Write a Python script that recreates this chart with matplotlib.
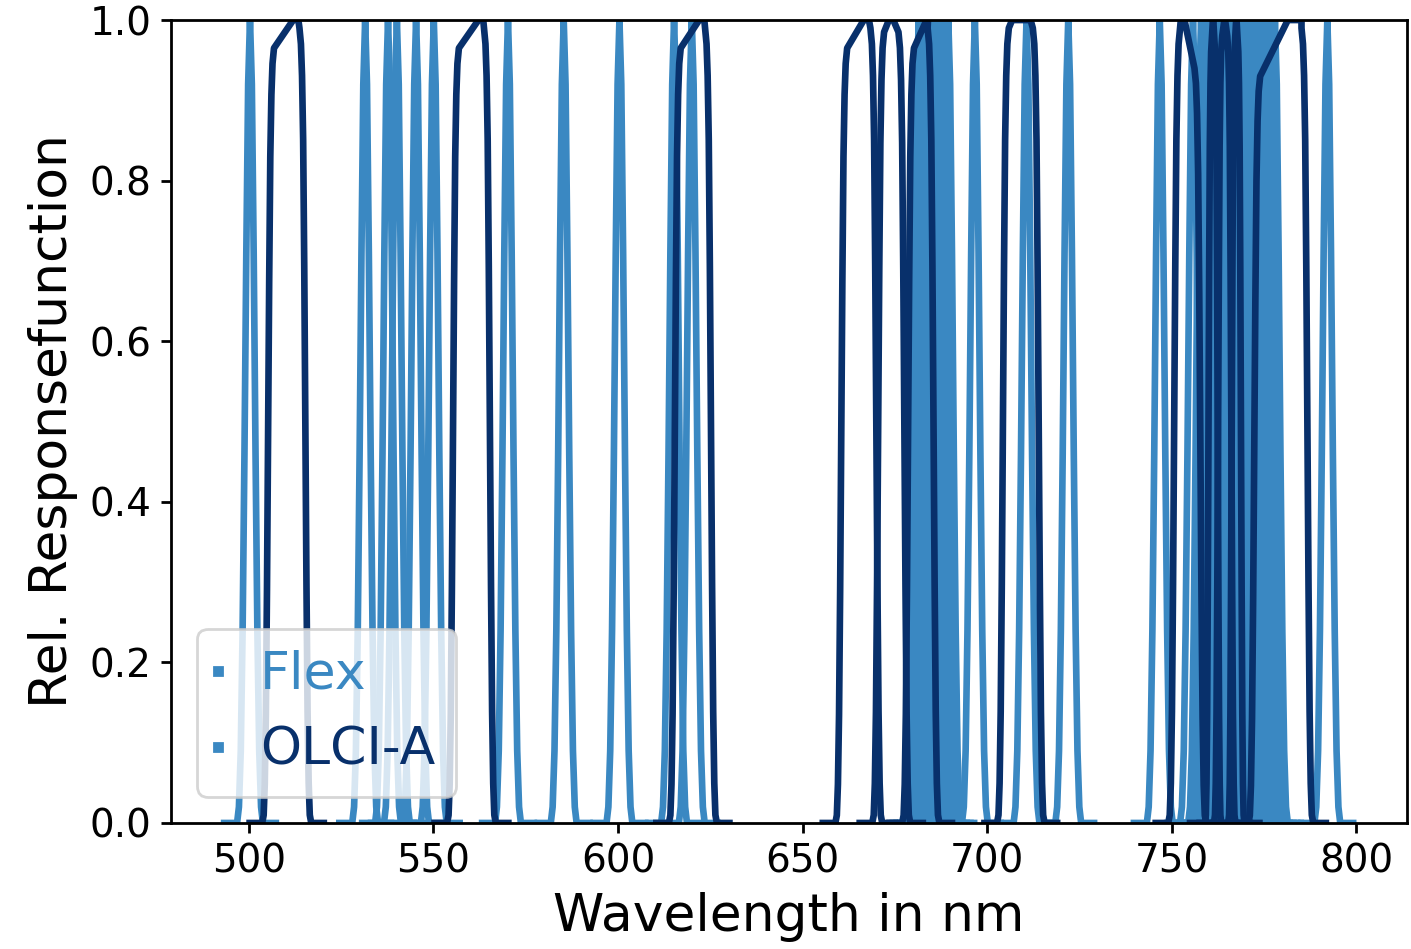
import numpy as np
import matplotlib
matplotlib.use('Agg')
import matplotlib.pyplot as plt
from matplotlib.lines import Line2D

light_blue = '#3a88c2'
dark_blue = '#08306b'

# Flex band centres (nm)
flex_centers = [500.3, 531.5, 537.7, 540.1, 545.3, 550.1, 570.2, 585.3, 600.4,
                615.2, 620.0,
                681.5, 682.5, 683.5, 684.5, 685.5, 686.5, 687.5, 688.5, 689.5,
                696.7, 710.7, 722.0, 746.8, 755.8,
                758.0, 759.0, 760.0, 761.0, 762.0, 763.0, 764.0, 765.0, 766.0,
                767.0, 768.0, 769.0, 770.0, 771.0, 772.0, 773.0, 774.0, 775.0,
                776.0, 777.0, 778.0,
                792.2]

# shape of one Flex response (offset from centre in nm, rel. response)
flex_dx = [-7, -3.5, -3, -2.5, -2, -1.5, -1, -0.5, 0, 0.5, 1, 1.5, 2, 2.5, 3, 3.5, 7]
flex_y = [0, 0, 0.02, 0.09, 0.24, 0.46, 0.71, 0.92, 1, 0.92, 0.71, 0.46, 0.24, 0.09, 0.02, 0, 0]

# OLCI-A bands: half-height edges, shoulder levels, flat top and edge steepness
olci_left = [505.2, 555.3, 615.4, 660.5, 670.5, 678.6, 704.3, 750.7, 760.0, 762.6, 766.3, 772.4]
olci_right = [515.3, 565.3, 625.2, 670.0, 677.6, 685.5, 714.0, 757.8, 762.5, 766.2, 768.8, 786.8]
olci_shoulder_l = [0.965, 0.965, 0.965, 0.965, 0.985, 0.965, 0.99, 0.99, 0.98, 0.98, 0.98, 0.93]
olci_shoulder_r = [0.99, 0.99, 0.99, 0.99, 0.985, 0.99, 0.99, 0.94, 0.98, 0.98, 0.98, 0.99]
olci_peak_start = [512.0, 562.2, 622.0, 666.6, 673.4, 683.6, 706.8, 752.5, 761.2, 764.3, 767.5, 781.5]
olci_peak_end = [513.4, 563.5, 623.4, 668.0, 674.6, 684.0, 711.8, 753.5, 761.3, 764.5, 767.6, 785.2]
olci_edge_scale = [1, 1, 1, 1, 1, 1, 1, 1, 0.6, 0.7, 0.6, 1]

# shape of a band edge (offset from half-height point, fraction of shoulder)
edge_dx = [-1.6, -1.2, -0.9, -0.6, -0.3, 0.0, 0.3, 0.6, 0.9, 1.2, 1.6]
edge_f = [0.0, 0.01, 0.05, 0.14, 0.3, 0.5, 0.7, 0.86, 0.94, 0.98, 1.0]


def olci_curve(i):
    L, R, s = olci_left[i], olci_right[i], olci_edge_scale[i]
    dx = np.array(edge_dx) * s
    f = np.array(edge_f)
    x = np.concatenate([[L - 5], L + dx, [olci_peak_start[i], olci_peak_end[i]],
                        (R - dx)[::-1], [R + 5]])
    y = np.concatenate([[0], f * olci_shoulder_l[i], [1.0, 1.0],
                        (f * olci_shoulder_r[i])[::-1], [0]])
    return x, y


fig = plt.figure(figsize=(7.055, 4.745), dpi=200)
ax = fig.add_axes([0.1212, 0.1328, 0.876, 0.8461])

for c in flex_centers:
    ax.plot(c + np.array(flex_dx), flex_y, color=light_blue, lw=2.4)

for i in range(len(olci_left)):
    x, y = olci_curve(i)
    ax.plot(x, y, color=dark_blue, lw=2.4)

ax.set_xlim(478.9, 813.8)
ax.set_ylim(0, 1)
ax.set_yticks([0.0, 0.2, 0.4, 0.6, 0.8, 1.0])
ax.set_xlabel('Wavelength in nm', fontsize=18.7)
ax.set_ylabel('Rel. Responsefunction', fontsize=18.7)
ax.tick_params(labelsize=14, width=1.0)
for sp in ax.spines.values():
    sp.set_linewidth(1.0)

handles = [Line2D([0], [0], color=light_blue, marker='s', markersize=3, linestyle='none'),
           Line2D([0], [0], color=light_blue, marker='s', markersize=3, linestyle='none')]
leg = ax.legend(handles, ['Flex', 'OLCI-A'], loc='lower left', fontsize=18.8,
                handlelength=0)
for txt, col in zip(leg.get_texts(), [light_blue, dark_blue]):
    txt.set_color(col)

plt.savefig('out.png', dpi=200)
